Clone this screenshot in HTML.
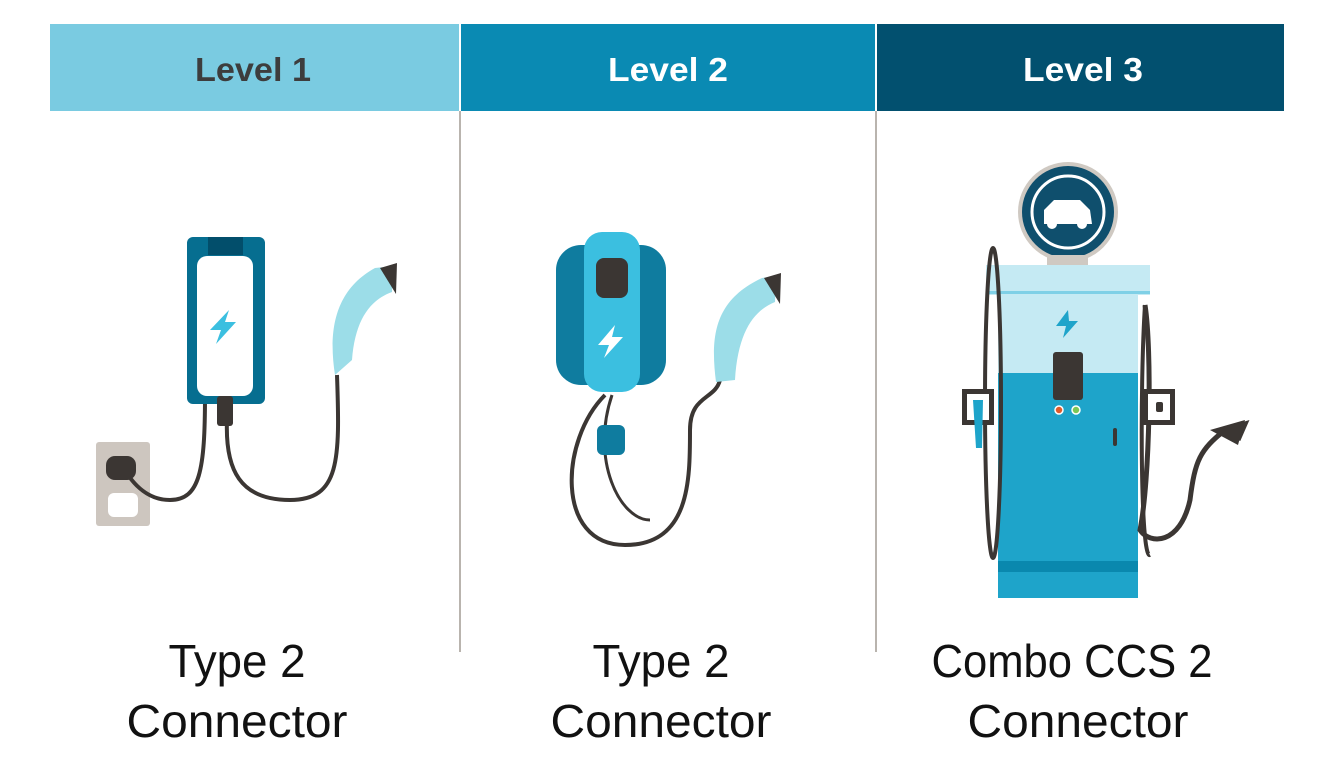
<!DOCTYPE html>
<html><head><meta charset="utf-8"><style>
html,body{margin:0;padding:0;background:#fff;}
svg{display:block}
</style></head><body>
<svg width="1340" height="769" viewBox="0 0 1340 769" xmlns="http://www.w3.org/2000/svg">
<rect width="1340" height="769" fill="#fff"/>
<!-- headers -->
<rect x="50" y="24" width="409" height="87" fill="#7ACBE1"/>
<rect x="461" y="24" width="414" height="87" fill="#0A8AB3"/>
<rect x="877" y="24" width="407" height="87" fill="#02506F"/>
<g font-family="Liberation Sans, sans-serif" font-weight="bold" font-size="33" text-anchor="middle">
<text x="253" y="81" fill="#3d3d3d" textLength="116" lengthAdjust="spacingAndGlyphs">Level 1</text>
<text x="668" y="81" fill="#fff" textLength="120" lengthAdjust="spacingAndGlyphs">Level 2</text>
<text x="1083" y="81" fill="#fff" textLength="120" lengthAdjust="spacingAndGlyphs">Level 3</text>
</g>
<line x1="460" y1="111" x2="460" y2="652" stroke="#b9b4ae" stroke-width="2"/>
<line x1="876" y1="111" x2="876" y2="652" stroke="#b9b4ae" stroke-width="2"/>

<!-- LEVEL 1 -->
<rect x="96" y="442" width="54" height="84" rx="3" fill="#cdc6bf"/>
<rect x="108" y="493" width="30" height="24" rx="6" fill="#fff"/>
<path d="M205 395 C205 470 200 500 170 500 C145 500 130 480 122 465" fill="none" stroke="#3b3633" stroke-width="4"/>
<rect x="106" y="456" width="30" height="24" rx="9" fill="#3b3633"/>
<path d="M227 420 C225 470 240 500 290 500 C340 500 340 460 337 375" fill="none" stroke="#3b3633" stroke-width="4"/>
<rect x="187" y="237" width="78" height="167" rx="6" fill="#066E90"/>
<rect x="208" y="237" width="35" height="18" fill="#024E6B"/>
<rect x="197" y="256" width="56" height="140" rx="10" fill="#fff"/>
<rect x="217" y="396" width="16" height="30" rx="3" fill="#3b3633"/>
<path d="M229 310 L210 330 L221 330 L216 344 L236 322 L225 322 Z" fill="#3BBFE0"/>
<path d="M335 375 C328 330 335 290 375 268 L393 266 L392 292 C370 300 355 320 352 360 Z" fill="#9CDDE8"/>
<path d="M380 268 L397 263 L396 294 Z" fill="#3b3633"/>

<!-- LEVEL 2 -->
<path d="M605 395 C560 440 555 545 625 545 C690 545 690 480 690 430 C690 395 715 400 720 380" fill="none" stroke="#3b3633" stroke-width="4"/>
<path d="M612 395 C590 460 620 520 650 520" fill="none" stroke="#3b3633" stroke-width="3"/>
<rect x="597" y="425" width="28" height="30" rx="6" fill="#0F7C9F"/>
<rect x="556" y="245" width="110" height="140" rx="25" fill="#0F7C9F"/>
<rect x="584" y="232" width="56" height="160" rx="18" fill="#3BBFE0"/>
<rect x="596" y="258" width="32" height="40" rx="8" fill="#3b3633"/>
<path d="M615 325 L598 345 L609 345 L604 358 L623 337 L612 337 Z" fill="#fff"/>
<path d="M716 382 C710 335 715 300 762 278 L776 276 L775 302 C755 310 738 330 735 380 Z" fill="#9CDDE8"/>
<path d="M764 278 L781 273 L780 304 Z" fill="#3b3633"/>

<!-- LEVEL 3 -->
<circle cx="1068" cy="212" r="50" fill="#cfc9c2"/>
<circle cx="1068" cy="212" r="46" fill="#0F4F6D"/>
<circle cx="1068" cy="212" r="36" fill="none" stroke="#fff" stroke-width="3"/>
<path d="M1044 224 L1044 210 L1054 200 L1080 200 L1090 210 L1092 224 Z" fill="#fff"/>
<circle cx="1052" cy="224" r="5" fill="#fff"/><circle cx="1082" cy="224" r="5" fill="#fff"/>
<rect x="1047" y="255" width="41" height="12" fill="#cfc9c2"/>
<rect x="986" y="265" width="164" height="30" fill="#C5EAF3"/>
<rect x="998" y="293" width="140" height="80" fill="#C5EAF3"/>
<rect x="986" y="291" width="164" height="3" fill="#7FD0E6"/>
<rect x="998" y="373" width="140" height="225" fill="#1EA4CA"/>
<rect x="998" y="561" width="140" height="11" fill="#0A88AE"/>
<path d="M1068 310 L1056 326 L1066 326 L1063 338 L1078 321 L1069 321 Z" fill="#1EA4CA"/>
<rect x="1053" y="352" width="30" height="48" rx="3" fill="#3b3633"/>
<circle cx="1059" cy="410" r="4" fill="#e05a2a" stroke="#fff" stroke-width="1.5"/>
<circle cx="1076" cy="410" r="4" fill="#7cc756" stroke="#fff" stroke-width="1.5"/>
<rect x="1113" y="428" width="4" height="18" rx="2" fill="#3b3633"/>
<ellipse cx="993" cy="403" rx="8" ry="155" fill="none" stroke="#3b3633" stroke-width="4"/>
<path d="M1145 305 C1140 380 1140 560 1150 555" fill="none" stroke="#3b3633" stroke-width="4"/>
<path d="M1145 305 C1152 350 1150 480 1140 530 C1150 545 1180 545 1190 500 C1195 460 1200 450 1225 430 L1245 424 L1238 440" fill="none" stroke="#3b3633" stroke-width="5"/>
<path d="M1210 430 L1245 420 L1238 445 Z" fill="#3b3633"/>
<rect x="962" y="389" width="32" height="36" fill="#3b3633"/>
<rect x="967" y="394" width="22" height="26" fill="#fff"/>
<rect x="1143" y="389" width="32" height="36" fill="#3b3633"/>
<rect x="1148" y="394" width="22" height="26" fill="#fff"/>
<rect x="1156" y="402" width="7" height="10" rx="2" fill="#3b3633"/>
<path d="M973 400 L983 400 L982 448 L976 448 Z" fill="#1EA4CA"/>

<!-- labels -->
<g font-family="Liberation Sans, sans-serif" font-size="46" fill="#111" text-anchor="middle">
<text x="237" y="677" textLength="137" lengthAdjust="spacingAndGlyphs">Type 2</text>
<text x="237" y="737" textLength="221" lengthAdjust="spacingAndGlyphs">Connector</text>
<text x="661" y="677" textLength="137" lengthAdjust="spacingAndGlyphs">Type 2</text>
<text x="661" y="737" textLength="221" lengthAdjust="spacingAndGlyphs">Connector</text>
<text x="1072" y="677" textLength="281" lengthAdjust="spacingAndGlyphs">Combo CCS 2</text>
<text x="1078" y="737" textLength="221" lengthAdjust="spacingAndGlyphs">Connector</text>
</g>
</svg>
</body></html>
